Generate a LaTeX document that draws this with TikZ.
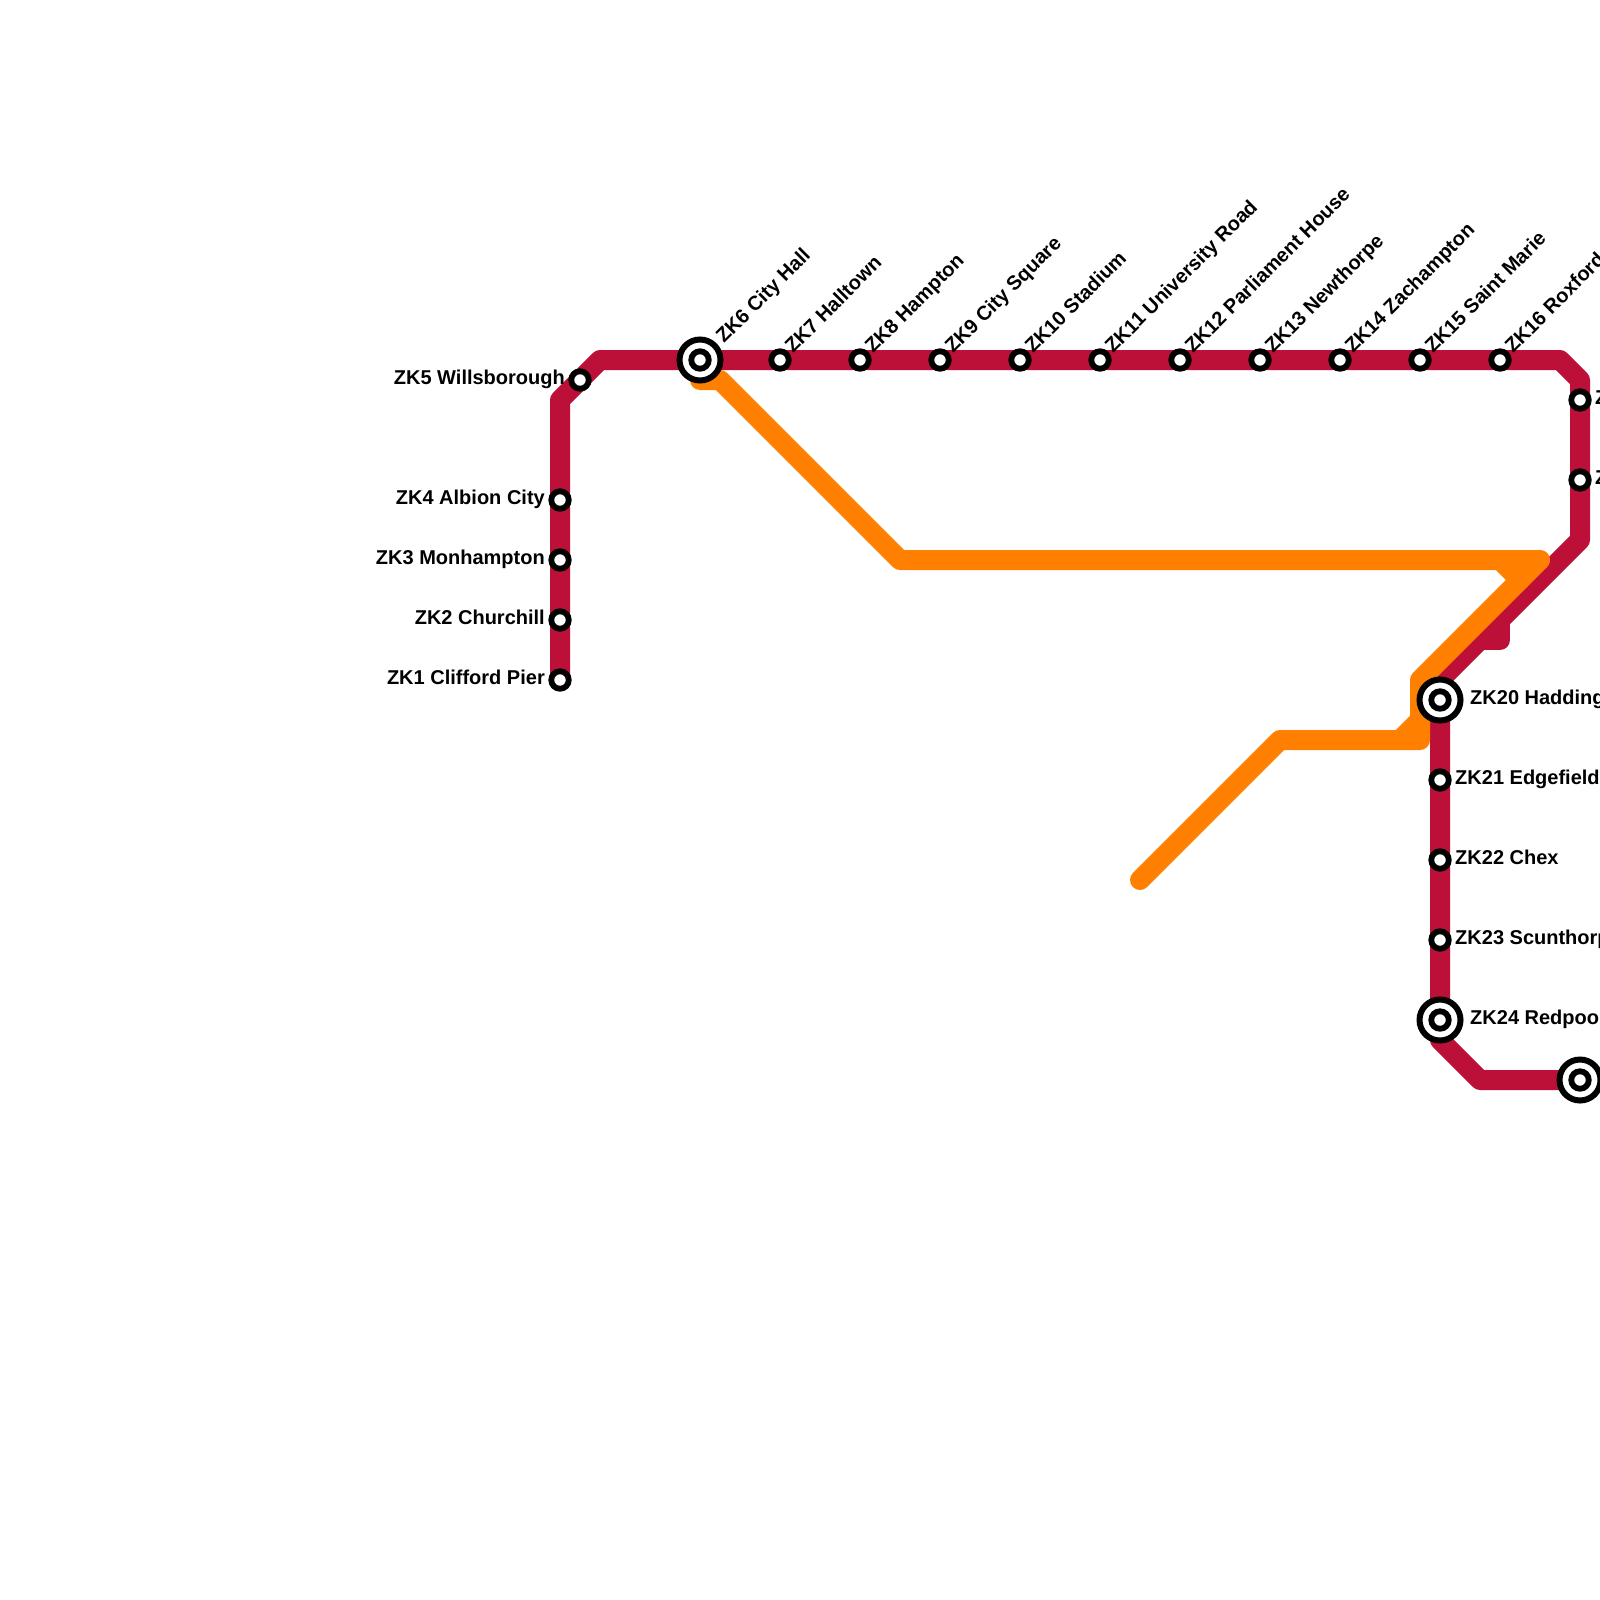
\documentclass[tikz,border=0pt]{standalone}
\usepackage{fontspec}
\setmainfont{Liberation Sans}
\definecolor{linered}{HTML}{BD1038}
\definecolor{lineorange}{HTML}{FF8000}
\tikzset{
  x=1pt,y=-1pt,
  metro/.style={line width=20pt,line cap=round,line join=round},
  stn/.style={circle,draw=black,fill=white,line width=5.8pt,minimum size=17.5pt,inner sep=0pt},
  hubouter/.style={circle,draw=black,fill=white,line width=6pt,minimum size=41pt,inner sep=0pt},
  lbl/.style={font=\bfseries\fontsize{20}{22}\selectfont,text=black,inner sep=0pt},
  lblw/.style={lbl,anchor=base east},
  lble/.style={lbl,anchor=base west},
  lblr/.style={lbl,anchor=base west,rotate=45}
}
\begin{document}
\begin{tikzpicture}
\useasboundingbox (0,0) rectangle (1600,1600);
\clip (0,0) rectangle (1600,1600);
% stations
\foreach \n/\x/\y in {1/560/680,2/560/620,3/560/560,4/560/500,5/580/380,6/700/360,7/780/360,8/860/360,9/940/360,10/1020/360,11/1100/360,12/1180/360,13/1260/360,14/1340/360,15/1420/360,16/1500/360,17/1580/400,18/1580/480,20/1440/700,21/1440/780,22/1440/860,23/1440/940,24/1440/1020,25/1580/1080}{\coordinate (z\n) at (\x,\y);}
% bends
\coordinate (r1) at (560,400);
\coordinate (r2) at (600,360);
\coordinate (r3) at (1560,360);
\coordinate (r4) at (1580,380);
\coordinate (r5) at (1580,540);
\coordinate (r6) at (1440,680);
\coordinate (r7) at (1440,1040);
\coordinate (r8) at (1480,1080);
\coordinate (b1) at (1480,640);
\coordinate (b2) at (1500,640);
\coordinate (b3) at (1500,620);
\coordinate (o0) at (700,380);
\coordinate (o1) at (720,380);
\coordinate (o2) at (900,560);
\coordinate (o3) at (1540,560);
\coordinate (o4) at (1420,680);
\coordinate (o5) at (1420,740);
\coordinate (o6) at (1280,740);
\coordinate (o7) at (1140,880);
\coordinate (o8) at (1500,560);
\coordinate (o9) at (1520,580);
\coordinate (o10) at (1420,720);
\coordinate (o11) at (1400,740);
% red line
\draw[metro,linered] (z1) -- (r1) -- (r2) -- (r3) -- (r4) -- (r5) -- (r6) -- (r7) -- (r8) -- (z25);
\draw[metro,linered] (b1) -- (b2) -- (b3);
% orange line
\draw[metro,lineorange] (o0) -- (o1) -- (o2) -- (o3) -- (o4) -- (o5) -- (o6) -- (o7);
\draw[metro,lineorange] (o8) -- (o9);
\draw[metro,lineorange] (o10) -- (o11);
% small stations
\foreach \n in {1,2,3,4,5,7,8,9,10,11,12,13,14,15,16,17,18,21,22,23}{\node[stn] (s\n) at (z\n) {};}
% interchanges
\foreach \n in {6,20,24,25}{\node[hubouter] (h\n) at (z\n) {};\node[stn] (s\n) at (z\n) {};}
% labels
\node[lblw] (l1) at (545,684.5) {ZK1 Clifford Pier};
\node[lblw] (l2) at (545,624.5) {ZK2 Churchill};
\node[lblw] (l3) at (545,564.5) {ZK3 Monhampton};
\node[lblw] (l4) at (545,504.5) {ZK4 Albion City};
\node[lblw] (l5) at (565,384.5) {ZK5 Willsborough};
\node[lblr] (l6) at (724,344) {ZK6 City Hall};
\node[lblr] (l7) at (793,354) {ZK7 Halltown};
\node[lblr] (l8) at (873,354) {ZK8 Hampton};
\node[lblr] (l9) at (953,354) {ZK9 City Square};
\node[lblr] (l10) at (1033,354) {ZK10 Stadium};
\node[lblr] (l11) at (1113,354) {ZK11 University Road};
\node[lblr] (l12) at (1193,354) {ZK12 Parliament House};
\node[lblr] (l13) at (1273,354) {ZK13 Newthorpe};
\node[lblr] (l14) at (1353,354) {ZK14 Zachampton};
\node[lblr] (l15) at (1433,354) {ZK15 Saint Marie};
\node[lblr] (l16) at (1513,354) {ZK16 Roxford};
\node[lble] (l17) at (1595,404.5) {ZK17};
\node[lble] (l18) at (1595,484.5) {ZK18};
\node[lble] (l20) at (1470,704.5) {ZK20 Haddington};
\node[lble] (l21) at (1455,784.5) {ZK21 Edgefield};
\node[lble] (l22) at (1455,864.5) {ZK22 Chex};
\node[lble] (l23) at (1455,944.5) {ZK23 Scunthorpe};
\node[lble] (l24) at (1470,1024.5) {ZK24 Redpool};
\end{tikzpicture}
\end{document}
